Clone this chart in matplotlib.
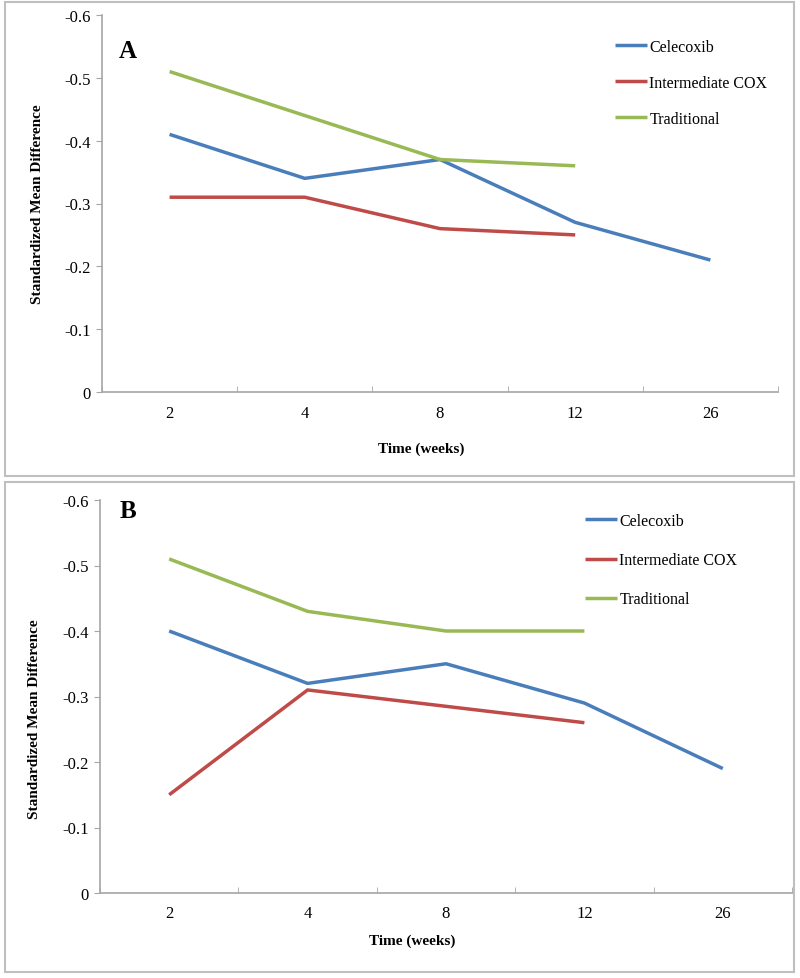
import matplotlib
matplotlib.use("Agg")
import matplotlib.pyplot as plt
from matplotlib.patches import Rectangle
import numpy as np

plt.rcParams['font.family'] = ['Liberation Serif', 'DejaVu Serif']

weeks = ["2", "4", "8", "12", "26"]
series_names = ["Celecoxib", "Intermediate COX", "Traditional"]
colors = ["#4A7EBB", "#BE4B48", "#98B954"]

a_celecoxib = [-0.41, -0.34, -0.37, -0.27, -0.21]
a_intermediate = [-0.31, -0.31, -0.26, -0.25]
a_traditional = [-0.51, -0.44, -0.37, -0.36]

b_celecoxib = [-0.40, -0.32, -0.35, -0.29, -0.19]
b_intermediate = [-0.15, -0.31, -0.285, -0.26]
b_traditional = [-0.51, -0.43, -0.40, -0.40]

y_ticks = [0, -0.1, -0.2, -0.3, -0.4, -0.5, -0.6]
y_ticklabels = ["0", "-0.1", "-0.2", "-0.3", "-0.4", "-0.5", "-0.6"]

W, H = 800, 979
fig = plt.figure(figsize=(W / 100, H / 100), dpi=100)

def fx(px):
    return px / W

def fy(py):
    return 1 - py / H

# panel boxes
for (x0, y0, x1, y1) in [(5, 3, 794, 477), (5, 483, 794, 973)]:
    fig.add_artist(Rectangle((fx(x0), fy(y1)), fx(x1) - fx(x0), fy(y0) - fy(y1),
                             transform=fig.transFigure, fill=False,
                             edgecolor="#bfbfbf", linewidth=1.5))

spine_col = "#a6a6a6"

def make_panel(rect_px, data, letter, letter_px, legend_px, legend_spacing, xlabel_xy, ylabel_xy):
    left, top, right, bottom = rect_px
    ax = fig.add_axes([fx(left), fy(bottom), fx(right) - fx(left), fy(top) - fy(bottom)])
    x = np.arange(len(weeks))
    for name, vals, c in zip(series_names, data, colors):
        ax.plot(x[:len(vals)], vals, color=c, lw=2.5, label=name, solid_capstyle='butt')
    ax.set_xlim(-0.5, len(weeks) - 0.5)
    ax.set_ylim(0, -0.6)
    ax.set_yticks(y_ticks)
    ax.set_yticklabels(y_ticklabels, fontsize=12)
    ax.set_xticks(x)
    ax.set_xticklabels(weeks, fontsize=12)
    ax.set_xticks(np.arange(-0.5, len(weeks)), minor=True)
    ax.tick_params(axis='x', which='major', length=0, pad=9)
    ax.tick_params(axis='x', which='minor', direction='in', length=4, color=spine_col)
    ax.tick_params(axis='y', length=4, color=spine_col, pad=4)
    for s in ['top', 'right']:
        ax.spines[s].set_visible(False)
    for s in ['left', 'bottom']:
        ax.spines[s].set_color(spine_col)
        ax.spines[s].set_linewidth(1.2)
    ax.set_ylabel("Standardized Mean Difference", fontsize=11, fontweight='bold')
    ax.set_xlabel("Time (weeks)", fontsize=11, fontweight='bold')
    w = right - left
    h = bottom - top
    ax.yaxis.set_label_coords((ylabel_xy[0] - left) / w, (bottom - ylabel_xy[1]) / h)
    ax.yaxis.label.set_va('center')
    ax.xaxis.set_label_coords((xlabel_xy[0] - left) / w, (bottom - xlabel_xy[1]) / h)
    ax.xaxis.label.set_va('center')
    fig.text(fx(letter_px[0]), fy(letter_px[1]), letter, fontsize=18, fontweight='bold',
             ha='center', va='center')
    ax.legend(loc='upper left', bbox_to_anchor=(fx(legend_px[0]), fy(legend_px[1])),
              bbox_transform=fig.transFigure, frameon=False, fontsize=11.5,
              handlelength=2.0, handletextpad=0.15, labelspacing=legend_spacing, borderpad=0,
              borderaxespad=0)
    return ax

make_panel((102, 16, 778, 393), [a_celecoxib, a_intermediate, a_traditional], "A",
           (128, 51), (615, 40), 1.25, (421, 449), (37, 204))
make_panel((100, 501, 792, 894), [b_celecoxib, b_intermediate, b_traditional], "B",
           (128, 511), (585, 514), 1.45, (412, 941), (35, 719))

fig.savefig("out.png", dpi=100)
